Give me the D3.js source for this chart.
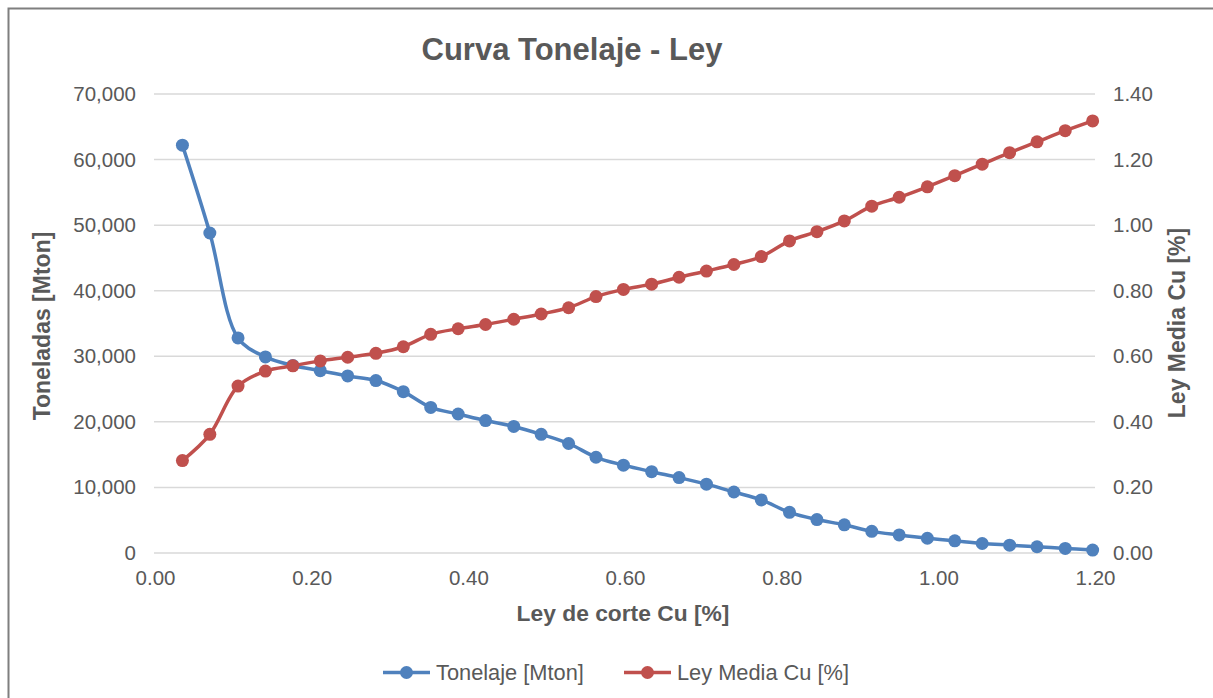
<!DOCTYPE html>
<html>
<head>
<meta charset="utf-8">
<script src="https://cdn.jsdelivr.net/npm/d3@7"></script>
<style>
  html, body { margin: 0; padding: 0; background: #ffffff; }
  svg { display: block; }
  text { font-family: "Liberation Sans", Arial, sans-serif; fill: #595959; }
</style>
</head>
<body>
<svg id="chart" width="1213" height="698"></svg>
<script>
// Cut-off grade (Cu %) for each step of the grade-tonnage curve
const cutoffs = [0.035, 0.070, 0.106, 0.141, 0.176, 0.211, 0.246, 0.282, 0.317, 0.352,
                 0.387, 0.422, 0.458, 0.493, 0.528, 0.563, 0.598, 0.634, 0.669, 0.704,
                 0.739, 0.774, 0.810, 0.845, 0.880, 0.915, 0.950, 0.986, 1.021, 1.056,
                 1.091, 1.126, 1.162, 1.197];
// Tonnage above cut-off [Mton]
const tonelaje = [62200, 48800, 32800, 29900, 28600, 27800, 27000, 26300, 24600, 22200,
                  21200, 20200, 19300, 18100, 16700, 14600, 13400, 12400, 11500, 10500,
                  9300, 8100, 6200, 5100, 4300, 3300, 2750, 2250, 1850, 1450,
                  1200, 950, 700, 450];
// Mean Cu grade above cut-off [%]
const leyMedia = [0.282, 0.362, 0.509, 0.555, 0.571, 0.586, 0.597, 0.609, 0.629, 0.667,
                  0.684, 0.697, 0.713, 0.729, 0.748, 0.782, 0.804, 0.820, 0.841, 0.860,
                  0.880, 0.904, 0.952, 0.980, 1.013, 1.058, 1.085, 1.117, 1.151, 1.186,
                  1.221, 1.254, 1.288, 1.318];

const xTicks = [0, 0.2, 0.4, 0.6, 0.8, 1.0, 1.2];
const yLeftTicks = [0, 10000, 20000, 30000, 40000, 50000, 60000, 70000];
const yRightTicks = [0, 0.2, 0.4, 0.6, 0.8, 1.0, 1.2, 1.4];

const seriesNames = ["Tonelaje [Mton]", "Ley Media Cu [%]"];
const colors = ["#4f81bd", "#c0504d"];

const svg = d3.select("#chart");
const W = 1213, H = 698;

// Chart frame
svg.append("path")
  .attr("d", `M8.5,${H} L8.5,8.5 L${W},8.5`)
  .attr("fill", "none")
  .attr("stroke", "#7f7f7f")
  .attr("stroke-width", 2);

const x = d3.scaleLinear().domain([0, 1.2]).range([155, 1095]);
const yL = d3.scaleLinear().domain([0, 70000]).range([553, 94]);
const yR = d3.scaleLinear().domain([0, 1.4]).range([553, 94]);

// Horizontal gridlines
svg.append("g")
  .selectAll("line")
  .data(yLeftTicks)
  .join("line")
  .attr("x1", 154).attr("x2", 1095)
  .attr("y1", d => yL(d)).attr("y2", d => yL(d))
  .attr("stroke", "#d9d9d9")
  .attr("stroke-width", 1.5);

// Axes (labels only, no domain line or tick marks)
const tickFont = 20.5;
function styleAxis(g) {
  g.select(".domain").remove();
  g.selectAll(".tick line").remove();
  g.selectAll(".tick text")
    .attr("font-size", tickFont)
    .attr("font-family", "Liberation Sans, Arial, sans-serif")
    .attr("fill", "#595959");
}

svg.append("g")
  .attr("transform", "translate(0,553)")
  .call(d3.axisBottom(x).tickValues(xTicks).tickFormat(d3.format(".2f")).tickSize(0).tickPadding(17))
  .call(styleAxis);

svg.append("g")
  .attr("transform", "translate(154,0)")
  .call(d3.axisLeft(yL).tickValues(yLeftTicks).tickFormat(d3.format(",")).tickSize(0).tickPadding(18))
  .call(styleAxis);

svg.append("g")
  .attr("transform", "translate(1095,0)")
  .call(d3.axisRight(yR).tickValues(yRightTicks).tickFormat(d3.format(".2f")).tickSize(0).tickPadding(18))
  .call(styleAxis);

// Title
svg.append("text")
  .attr("x", 572).attr("y", 60)
  .attr("text-anchor", "middle")
  .attr("font-size", 31)
  .attr("font-weight", "bold")
  .text("Curva Tonelaje - Ley");

// Axis titles
svg.append("text")
  .attr("x", 623).attr("y", 621)
  .attr("text-anchor", "middle")
  .attr("font-size", 22.8)
  .attr("font-weight", "bold")
  .text("Ley de corte Cu [%]");

svg.append("text")
  .attr("transform", "translate(50,326) rotate(-90)")
  .attr("text-anchor", "middle")
  .attr("font-size", 23)
  .attr("font-weight", "bold")
  .text("Toneladas [Mton]");

svg.append("text")
  .attr("transform", "translate(1185,323) rotate(-90)")
  .attr("text-anchor", "middle")
  .attr("font-size", 23)
  .attr("font-weight", "bold")
  .text("Ley Media Cu [%]");

// Series
const series = [
  { name: seriesNames[0], values: tonelaje, y: yL, color: colors[0] },
  { name: seriesNames[1], values: leyMedia, y: yR, color: colors[1] }
];

const plot = svg.append("g");
series.forEach(s => {
  const pts = cutoffs.map((c, i) => [c, s.values[i]]);
  const line = d3.line()
    .x(d => x(d[0]))
    .y(d => s.y(d[1]))
    .curve(d3.curveCatmullRom.alpha(0.5));
  plot.append("path")
    .datum(pts)
    .attr("d", line)
    .attr("fill", "none")
    .attr("stroke", s.color)
    .attr("stroke-width", 3.5)
    .attr("stroke-linejoin", "round");
  plot.append("g")
    .selectAll("circle")
    .data(pts)
    .join("circle")
    .attr("cx", d => x(d[0]))
    .attr("cy", d => s.y(d[1]))
    .attr("r", 6.5)
    .attr("fill", s.color);
});

// Legend
const legendItems = [
  { name: seriesNames[0], color: colors[0], x0: 383 },
  { name: seriesNames[1], color: colors[1], x0: 624 }
];
const ly = 672.5;
const lg = svg.append("g");
legendItems.forEach(it => {
  lg.append("line")
    .attr("x1", it.x0).attr("x2", it.x0 + 47)
    .attr("y1", ly).attr("y2", ly)
    .attr("stroke", it.color)
    .attr("stroke-width", 3.5);
  lg.append("circle")
    .attr("cx", it.x0 + 23.5).attr("cy", ly)
    .attr("r", 6.5)
    .attr("fill", it.color);
  lg.append("text")
    .attr("x", it.x0 + 53).attr("y", ly + 7.8)
    .attr("font-size", 21.8)
    .text(it.name);
});
</script>
</body>
</html>
